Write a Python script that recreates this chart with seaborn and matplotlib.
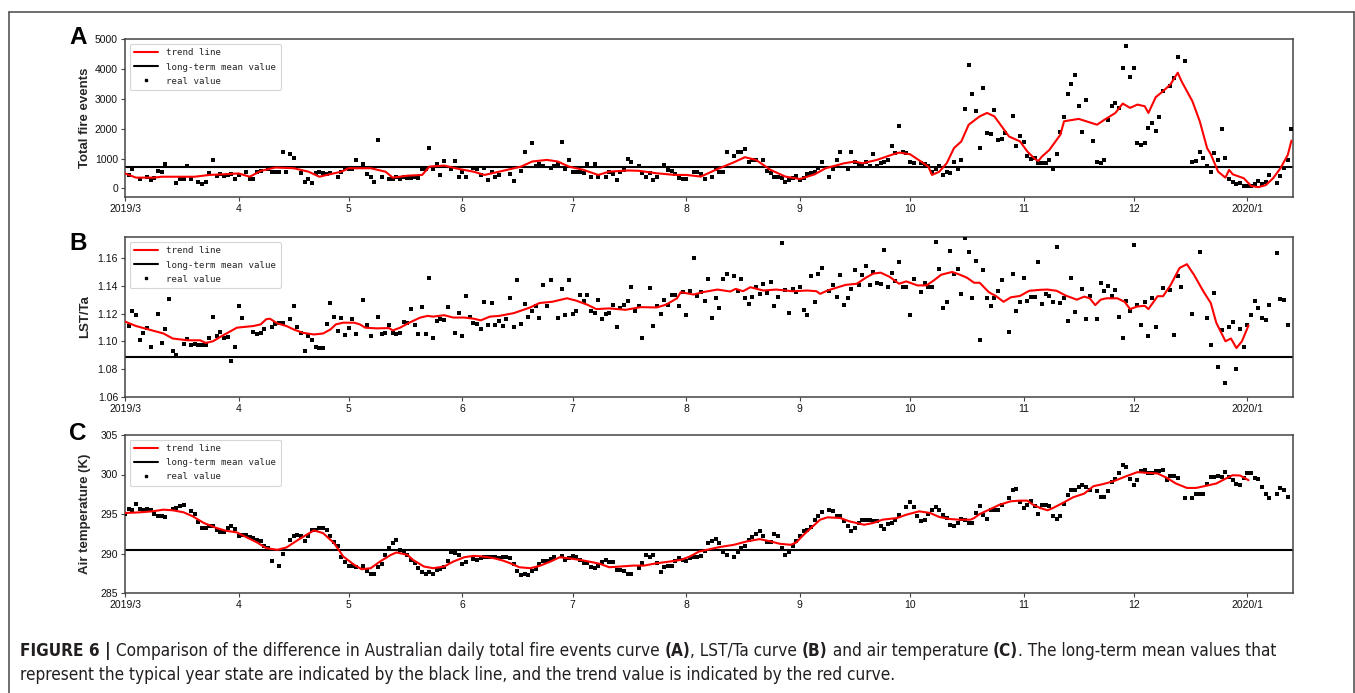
import numpy as np
import pandas as pd
import matplotlib
matplotlib.use("Agg")
import matplotlib.pyplot as plt
import seaborn as sns
from matplotlib import font_manager as fm
from matplotlib.lines import Line2D

nan = np.nan

# ---------------- data (day index 0 = 2019-03-01) ----------------
month_ticks = [0, 31, 61, 92, 122, 153, 184, 214, 245, 275, 306]
month_labels = ["2019/3", "4", "5", "6", "7", "8", "9", "10", "11", "12", "2020/1"]

# Panel A: daily total fire events (one value per day, nan = no point)
fire_values = [
    nan, 450, 650, nan, 315, nan, 395, 280, 335, 585,
    540, 810, nan, nan, 180, 315, 315, 765, 315, nan,
    225, 135, 200, 505, 955, 430, 485, 415, 450, 485,
    315, 450, nan, 560, 315, 315, 560, 585, nan, 650,
    560, 560, 560, 1235, 540, 1145, 1010, nan, 505, 225,
    315, 170, 505, 540, 505, 470, 505, nan, 395, 540,
    675, 640, 650, 955, nan, 810, 485, 370, 225, 1630,
    395, nan, 315, 315, 395, 315, 395, 335, 335, 395,
    335, 650, 650, 1370, 650, 810, 450, 920, nan, 650,
    920, 395, 560, 395, nan, 675, 650, 450, 695, 280,
    560, 395, 450, nan, nan, 470, 260, nan, 595, 1235,
    nan, 1520, 755, 830, 755, nan, 695, 755, 810, 1540,
    640, 965, 560, 540, 560, 505, 810, 395, 810, 395,
    nan, 395, 560, 470, 280, 560, 620, 980, 875, nan,
    755, 505, 370, 505, 280, 370, nan, 785, 620, 595,
    470, 335, 315, 315, nan, 540, 560, 470, 315, nan,
    395, 650, 540, 540, 1215, nan, 1070, 1215, 1215, 1315,
    900, 955, 955, nan, 935, 595, 505, 395, 395, 335,
    225, 280, 360, 425, 280, 360, 470, 505, 560, 675,
    875, nan, 395, 650, 955, 1215, nan, 650, 1235, 875,
    785, 785, 900, 765, 1145, 765, 865, 900, 955, 1405,
    1180, 2080, 1215, 1180, 900, 845, nan, 845, 810, 765,
    560, 650, 765, 450, 560, 530, 900, 650, 955, 2650,
    4125, 3160, 2610, 1340, 3360, 1865, 1810, 2640, 1630, 1665,
    1865, nan, 2440, 1405, 1765, 1550, 1100, 980, 1010, 845,
    845, 845, 955, 650, 1145, 1890, 2395, 3160, 3495, 3800,
    2765, 1900, 2955, nan, 1595, 900, 845, 965, 2305, 2755,
    2865, 2700, 4025, 4790, 3745, 4045, 1505, 1440, 1530, 2025,
    2190, 1920, 2395, 3250, nan, 3450, 3700, 4405, nan, 4280,
    nan, 900, 920, 1235, 1010, 765, 560, 1200, 955, 1990,
    1035, 305, 225, 145, 170, 65, 65, 90, 155, 245,
    155, 225, 450, nan, 190, 415, 675, 955, 1980,
]
fire_trend_days = [0, 3, 8, 10, 19, 23, 28, 31, 34, 37, 41, 46, 50, 53, 55, 59, 61, 67, 71, 73,
                   77, 81, 83, 87, 91, 95, 98, 102, 108, 111, 115, 118, 121, 125, 129, 132, 137,
                   140, 145, 150, 153, 157, 161, 166, 169, 172, 176, 180, 184, 188, 191, 196, 199,
                   201, 205, 209, 211, 214, 217, 219, 220, 222, 224, 226, 228, 230, 233, 235, 237,
                   239, 241, 244, 246, 248, 249, 250, 252, 255, 256, 260, 265, 267, 270, 272, 274,
                   276, 278, 279, 281, 283, 285, 287, 288, 291, 293, 295, 296, 298, 300, 301, 302,
                   305, 307, 309, 311, 313, 315, 317, 318]
fire_trend_values = [500, 360, 360, 390, 390, 450, 480, 500, 390, 585, 700, 675, 560, 390, 450, 560,
                     675, 675, 560, 360, 425, 450, 730, 765, 650, 560, 450, 560, 730, 900, 955, 900,
                     730, 620, 450, 560, 600, 590, 505, 450, 450, 395, 620, 875, 1045, 955, 620,
                     395, 315, 470, 675, 840, 900, 840, 955, 1125, 1200, 1145, 900, 730, 450, 560,
                     840, 1350, 1575, 2135, 2415, 2530, 2415, 2080, 1740, 1575, 1235, 990, 920,
                     1070, 1290, 1800, 2250, 2330, 2135, 2300, 2530, 2845, 2700, 2810, 2755, 2530,
                     3060, 3260, 3485, 3880, 3600, 2920, 2250, 1350, 1145, 560, 360, 620, 470, 340,
                     80, 40, 110, 340, 675, 1125, 1600]
fire_mean = 710

# Panel B: LST/Ta
ratio_values = [
    nan, 1.1110, 1.1215, 1.1188, 1.1012, 1.1056, 1.1093, 1.0956, nan, 1.1195,
    1.0988, 1.1090, 1.1305, 1.0927, 1.0902, nan, 1.0980, 1.1017, 1.0976, 1.0983,
    1.0976, 1.0971, 1.0971, 1.1024, 1.1178, 1.1041, 1.1066, 1.1024, 1.1029, 1.0854,
    1.0959, 1.1251, 1.1168, nan, nan, 1.1066, 1.1054, 1.1056, 1.1085, nan,
    1.1105, 1.1127, 1.1134, 1.1134, nan, 1.1159, 1.1251, 1.1105, 1.1056, 1.0927,
    1.1037, 1.1007, 1.0959, 1.0949, 1.0949, 1.1124, 1.1276, 1.1178, 1.1073, 1.1168,
    1.1044, 1.1093, 1.1163, 1.1054, nan, 1.1300, 1.1120, 1.1041, nan, 1.1176,
    1.1049, 1.1056, 1.1115, 1.1061, 1.1049, 1.1056, 1.1142, 1.1134, 1.1232, 1.1117,
    1.1049, 1.1244, 1.1049, 1.1459, 1.1024, 1.1146, 1.1159, 1.1151, 1.1246, nan,
    1.1061, 1.1203, 1.1041, 1.1325, 1.1178, 1.1134, 1.1122, 1.1090, 1.1285, 1.1115,
    1.1276, 1.1115, 1.1146, 1.1110, 1.1159, 1.1310, 1.1105, 1.1444, 1.1122, 1.1268,
    1.1178, 1.1220, 1.1256, 1.1166, 1.1403, 1.1256, 1.1444, nan, 1.1171, 1.1378,
    1.1190, 1.1439, 1.1195, 1.1220, 1.1334, 1.1293, 1.1334, 1.1217, 1.1203, 1.1300,
    1.1163, 1.1195, 1.1207, 1.1264, 1.1102, 1.1237, 1.1261, 1.1293, 1.1390, 1.1220,
    1.1251, 1.1020, nan, 1.1386, 1.1110, 1.1256, 1.1195, 1.1300, 1.1264, 1.1334,
    1.1334, 1.1256, 1.1354, 1.1190, 1.1366, 1.1603, 1.1329, 1.1354, 1.1293, 1.1451,
    1.1166, 1.1315, 1.1237, 1.1451, 1.1488, nan, 1.1471, 1.1366, 1.1447, 1.1310,
    1.1268, 1.1322, 1.1390, 1.1342, 1.1412, 1.1349, 1.1427, 1.1251, 1.1322, 1.1712,
    1.1371, 1.1203, 1.1378, 1.1354, 1.1388, 1.1224, 1.1190, 1.1468, 1.1281, 1.1488,
    1.1529, nan, 1.1359, 1.1403, 1.1322, 1.1476, 1.1261, 1.1310, 1.1378, 1.1512,
    1.1407, 1.1481, 1.1544, 1.1407, 1.1500, 1.1422, 1.1415, 1.1656, 1.1393, 1.1495,
    1.1432, 1.1573, 1.1393, 1.1393, 1.1190, 1.1451, nan, 1.1354, 1.1417, 1.1393,
    1.1393, 1.1715, 1.1520, 1.1239, 1.1281, 1.1654, 1.1488, 1.1520, 1.1344, 1.1744,
    1.1647, 1.1310, 1.1578, 1.1012, 1.1517, 1.1315, 1.1256, 1.1315, 1.1364, 1.1439,
    nan, 1.1066, 1.1488, 1.1217, 1.1285, 1.1459, 1.1288, 1.1320, 1.1320, 1.1573,
    1.1266, 1.1344, 1.1325, 1.1281, 1.1678, 1.1273, 1.1315, 1.1146, 1.1456, 1.1212,
    nan, 1.1378, 1.1159, 1.1325, nan, 1.1163, 1.1417, 1.1364, 1.1398, 1.1329,
    1.1371, 1.1178, 1.1022, 1.1288, 1.1220, 1.1695, 1.1264, 1.1115, 1.1281, 1.1037,
    1.1310, 1.1102, nan, 1.1386, nan, 1.1371, 1.1044, 1.1471, 1.1395, nan,
    nan, 1.1200, nan, 1.1647, nan, 1.1171, 1.0973, 1.1346, 1.0817, 1.1078,
    1.0700, 1.1102, 1.1139, 1.0797, 1.1085, 1.0956, 1.1117, 1.1193, 1.1288, 1.1242,
    1.1166, 1.1156, 1.1261, nan, 1.1639, 1.1305, 1.1300, 1.1115,
]
ratio_trend_days = [0, 3, 7, 10.5, 13, 17, 20.5, 22, 24, 26, 28, 30.5, 35, 37, 38.5, 39.5, 41.5, 44,
                    46, 48.5, 51.5, 54, 56, 57.5, 59.5, 62.5, 64, 65.5, 68.5, 72, 73, 75, 77.5, 80.5,
                    82.5, 84, 87, 89.5, 92.5, 95, 97, 99.5, 102, 106, 110.5, 113, 116.5, 120.5, 123,
                    126, 128.5, 132, 136.5, 140.5, 145, 147.5, 150.5, 151.5, 155, 157.5, 161.5, 165,
                    166.5, 168.5, 170.5, 174, 177.5, 182, 186, 188.5, 189.5, 191.5, 195, 196.5, 199.5,
                    202, 204, 206, 208.5, 211, 213, 216, 218.5, 220.5, 222.5, 225.5, 227.5, 229.5,
                    231.5, 233, 235.5, 237.5, 239.5, 241.5, 244, 246.5, 249.5, 251.5, 254, 256.5,
                    259.5, 261.5, 263, 264.5, 266, 267.5, 270.5, 272.5, 274, 276, 278, 279, 281.5,
                    283, 285, 287.5, 289.5, 291.5, 294, 296, 297.5, 300, 301.5, 303, 304.5, 306.3]
ratio_trend_values = [1.1142, 1.1110, 1.1081, 1.1056, 1.1020, 1.1007, 1.1007, 1.0988, 1.1000, 1.1032,
                      1.1061, 1.1098, 1.1110, 1.1122, 1.1159, 1.1163, 1.1129, 1.1110, 1.1085, 1.1061,
                      1.1049, 1.1056, 1.1085, 1.1122, 1.1134, 1.1134, 1.1122, 1.1098, 1.1093, 1.1095,
                      1.1078, 1.1098, 1.1134, 1.1171, 1.1183, 1.1178, 1.1188, 1.1171, 1.1171, 1.1163,
                      1.1151, 1.1178, 1.1183, 1.1203, 1.1244, 1.1276, 1.1285, 1.1310, 1.1293, 1.1264,
                      1.1232, 1.1237, 1.1227, 1.1246, 1.1244, 1.1264, 1.1310, 1.1354, 1.1337, 1.1354,
                      1.1373, 1.1359, 1.1378, 1.1361, 1.1390, 1.1366, 1.1373, 1.1361, 1.1366, 1.1361,
                      1.1342, 1.1366, 1.1395, 1.1407, 1.1415, 1.1459, 1.1488, 1.1495, 1.1464, 1.1415,
                      1.1432, 1.1403, 1.1403, 1.1439, 1.1480, 1.1500, 1.1481, 1.1459, 1.1422, 1.1422,
                      1.1354, 1.1325, 1.1285, 1.1317, 1.1327, 1.1364, 1.1371, 1.1373, 1.1364, 1.1329,
                      1.1300, 1.1322, 1.1310, 1.1261, 1.1300, 1.1310, 1.1310, 1.1285, 1.1232, 1.1251,
                      1.1256, 1.1232, 1.1325, 1.1325, 1.1403, 1.1529, 1.1556, 1.1476, 1.1359, 1.1276,
                      1.1134, 1.1000, 1.1020, 1.0951, 1.1000, 1.1115]
ratio_mean = 1.0888

# Panel C: air temperature (K)
temp_values = [
    295.04, 295.64, 295.55, 296.31, 295.68, 295.47, 295.64, 295.47, 295.04, 294.70,
    294.79, 294.62, nan, 295.64, 295.76, 295.97, 296.10, nan, 295.34, 295.04,
    293.98, 293.22, 293.22, 293.52, 293.43, 293.01, 292.67, 292.67, 293.22, 293.52,
    293.09, 292.25, 292.37, 292.37, 292.03, 291.95, 291.74, 291.53, 290.89, 290.68,
    289.07, nan, 288.47, 289.96, nan, 291.65, 292.16, 292.37, 292.16, 291.53,
    292.16, 293.01, 293.01, 293.22, 293.22, 293.01, 292.16, 291.44, 290.89, 289.53,
    288.98, 288.43, 288.43, 288.35, nan, 288.43, 287.80, 287.42, 287.42, 288.26,
    288.69, 289.83, 290.68, 291.31, 291.65, 290.47, 290.13, 289.83, 289.19, 288.77,
    288.14, 287.71, 287.42, 287.71, 287.42, 287.92, 288.01, 288.35, 289.11, 290.17,
    290.04, 289.83, 288.64, 288.98, nan, 289.28, 289.19, 289.41, 289.62, 289.62,
    289.53, 289.62, 289.49, 289.62, 289.53, 289.41, 288.69, 287.84, 287.29, 287.42,
    287.29, 287.84, 288.05, 288.69, 289.11, 289.11, 289.28, 289.53, nan, 289.70,
    289.19, 289.41, 289.70, 289.62, 289.19, 288.86, 288.86, 288.26, 288.14, 288.43,
    288.98, 289.19, 288.98, 288.94, 287.92, 287.92, 287.84, 287.42, 287.42, nan,
    288.14, 288.86, 289.83, 289.62, 289.75, 288.77, 287.71, 288.26, 288.43, 288.47,
    289.07, 289.41, 289.19, 289.11, 289.41, 289.62, 289.62, 289.70, 290.34, 291.31,
    291.53, 291.82, 291.31, 290.25, 289.83, nan, 289.62, 290.13, 290.68, 290.89,
    291.74, 292.08, 292.50, 292.88, 292.16, 291.40, 291.40, 292.46, 292.16, 290.68,
    289.83, 290.25, 290.89, 291.53, 292.16, 292.80, 293.01, 293.35, 294.28, 294.79,
    295.25, nan, 295.55, 295.34, 294.79, 294.70, 294.07, 293.43, 292.80, 293.22,
    293.86, 294.19, 294.19, 294.19, 294.07, 294.07, 293.52, 293.09, 293.77, 293.86,
    294.28, 294.91, nan, 295.89, 296.53, 295.89, 294.70, 294.07, 294.28, 295.04,
    295.47, 295.89, 295.47, 294.91, 294.49, 293.64, 293.43, 293.86, 294.36, 294.28,
    293.86, 293.86, 295.13, 296.06, 294.91, 294.36, 295.55, 295.55, 295.55, 296.19,
    nan, 297.03, 298.09, 298.22, 296.57, 295.76, 296.19, 296.61, 296.06, 295.04,
    296.19, 296.19, 296.06, 294.70, 294.36, 294.70, 296.27, 297.46, 298.01, 298.01,
    298.43, 298.73, 298.43, 298.01, nan, 297.88, 297.16, 297.16, 297.92, 299.11,
    299.45, 300.21, 301.14, 300.93, 299.45, 298.69, 299.36, 300.42, 300.51, 300.13,
    300.21, 300.38, 300.42, 300.55, 299.28, 299.87, 299.79, 299.58, nan, 297.03,
    nan, 297.03, 297.58, 297.58, 297.58, 298.86, 299.70, 299.70, 299.87, 299.70,
    300.30, 299.70, 299.36, 298.86, 298.69, 299.58, 300.21, 300.13, 299.58, 299.45,
    298.43, 297.58, 297.03, nan, 297.58, 298.26, 298.09, 297.16,
]
temp_trend_days = [0, 4, 7.5, 10.5, 13, 16, 18.5, 21.5, 25, 27.5, 30.5, 33, 36, 38.5, 41.5, 44, 47.5,
                   51.5, 54, 57, 59.5, 62.5, 64.5, 67, 69.5, 72.5, 74, 77, 78.5, 81.5, 84, 87, 89.5,
                   92.5, 95, 97.5, 100.5, 103, 105, 107.5, 110.5, 113, 116, 118.5, 121.5, 124, 126.5,
                   129.5, 132, 135, 138.5, 141.5, 145, 148.5, 151.5, 154, 156.5, 159.5, 162, 166,
                   169.5, 173, 176, 178.5, 181.5, 183, 185, 187, 189.5, 191.5, 195, 197.5, 201.5,
                   204, 206.5, 210.5, 213, 216.5, 219.5, 222, 225, 227.5, 230.5, 231.5, 233, 236,
                   238.5, 241.5, 244, 246, 247.5, 249.5, 251.5, 253, 256, 258.5, 261.5, 264, 266.5,
                   269.5, 273, 276, 278.5, 281.5, 284, 286.5, 289.5, 292, 295, 297.5, 300.5, 302,
                   304, 306.3]
temp_trend_values = [295.13, 295.21, 295.34, 295.55, 295.47, 295.21, 294.70, 293.86, 293.22, 292.88,
                     292.67, 292.08, 291.40, 290.68, 290.47, 290.76, 291.82, 292.92, 292.58, 291.31,
                     289.62, 288.56, 288.01, 288.14, 288.98, 289.83, 290.13, 289.83, 289.19, 288.35,
                     288.14, 288.35, 288.98, 289.53, 289.70, 289.62, 289.41, 289.11, 288.77, 288.26,
                     288.14, 288.43, 288.98, 289.53, 289.36, 289.19, 288.98, 288.69, 288.26, 288.35,
                     288.47, 288.47, 288.77, 288.98, 289.19, 289.62, 290.25, 290.55, 290.81, 291.10,
                     291.53, 291.82, 291.53, 291.23, 291.10, 291.40, 292.37, 293.22, 294.28, 294.58,
                     294.49, 294.07, 293.64, 293.86, 294.28, 294.49, 294.91, 295.34, 295.13, 294.62,
                     294.36, 294.28, 294.28, 294.49, 295.00, 295.64, 296.19, 296.61, 296.69, 296.69,
                     296.19, 295.76, 295.47, 295.76, 296.48, 297.12, 297.58, 298.52, 298.77, 299.15,
                     299.79, 300.30, 300.21, 300.13, 299.58, 298.86, 298.30, 298.30, 298.60, 298.86,
                     299.58, 299.91, 299.87, 299.28]
temp_mean = 290.4

legend_labels = ["trend line", "long-term mean value", "real value"]
caption_line1 = [("FIGURE 6 |", True),
                 (" Comparison of the difference in Australian daily total fire events curve ", False),
                 ("(A)", True), (", LST/Ta curve ", False), ("(B)", True),
                 (" and air temperature ", False), ("(C)", True),
                 (". The long-term mean values that", False)]
caption_line2 = [("represent the typical year state are indicated by the black line, "
                  "and the trend value is indicated by the red curve.", False)]

# ---------------- style ----------------
sns.set_style("white")
plt.rcParams["font.family"] = ["Liberation Sans", "DejaVu Sans"]

# pick a condensed sans face for the caption if one is installed
cap_regular = None
cap_bold = None
for f in fm.fontManager.ttflist:
    nm = f.name.lower()
    st = str(f.stretch).lower()
    narrow = ("narrow" in nm or "condensed" in nm or "condensed" in st)
    if narrow and "mono" not in nm and "serif" not in nm and f.style == "normal":
        w = f.weight if isinstance(f.weight, int) else (700 if "bold" in str(f.weight) else 400)
        if w >= 600 and cap_bold is None:
            cap_bold = f.fname
        elif w < 600 and cap_regular is None:
            cap_regular = f.fname


def cap_props(bold, size):
    if cap_regular and cap_bold:
        return fm.FontProperties(fname=cap_bold if bold else cap_regular, size=size)
    return fm.FontProperties(family=["Liberation Sans", "DejaVu Sans"],
                             weight="bold" if bold else "normal", size=size)


W, H = 1355, 693
fig = plt.figure(figsize=(W / 100, H / 100), dpi=100)


def rect(l, t, r, b):
    return [l / W, 1 - b / H, (r - l) / W, (b - t) / H]


axA = fig.add_axes(rect(125, 39.3, 1293.3, 197.3))
axB = fig.add_axes(rect(125, 237.3, 1293.3, 396.7))
axC = fig.add_axes(rect(125, 435, 1293.3, 593))

XMAX = 318.5


def panel(ax, values, tdays, tvals, mean, ylim, yticks, yfmt, ylabel, letter, letter_y):
    df = pd.DataFrame({"day": np.arange(len(values)), "value": values}).dropna()
    sns.scatterplot(data=df, x="day", y="value", ax=ax, color="black", s=5, marker="s",
                    linewidth=0, zorder=3, legend=False)
    ax.axhline(mean, color="black", lw=1.5, zorder=2)
    sns.lineplot(x=tdays, y=tvals, ax=ax, color="red", lw=1.5, estimator=None, sort=False,
                 zorder=4, legend=False)
    ax.set_xlim(0, XMAX)
    ax.set_ylim(*ylim)
    ax.set_xticks(month_ticks)
    ax.set_xticklabels(month_labels)
    ax.set_yticks(yticks)
    ax.set_yticklabels([yfmt.format(v) for v in yticks])
    ax.set_xlabel("")
    ax.set_ylabel(ylabel, fontsize=9.5, fontweight="bold")
    ax.yaxis.set_label_coords(-0.0291, 0.5)
    ax.tick_params(axis="both", labelsize=7.5, length=3, width=0.8, color="#444",
                   labelcolor="#111", pad=2, direction="out", bottom=True, left=True)
    for sp in ax.spines.values():
        sp.set_visible(True)
        sp.set_color("#444")
        sp.set_linewidth(1.1)
    handles = [Line2D([], [], color="red", lw=1.5),
               Line2D([], [], color="black", lw=1.5),
               Line2D([], [], color="black", marker="s", ms=2, ls="none")]
    leg = ax.legend(handles, legend_labels, loc="upper left",
                    prop={"family": "DejaVu Sans Mono", "size": 6.6},
                    frameon=True, borderaxespad=0.5, handlelength=2.6, handletextpad=0.9,
                    labelspacing=0.55, borderpad=0.5, fancybox=True)
    leg.get_frame().set_edgecolor("#cccccc")
    leg.get_frame().set_linewidth(0.8)
    fig.text(78 / W, 1 - letter_y / H, letter, fontsize=17.5, fontweight="bold",
             ha="center", va="center", color="black")


panel(axA, fire_values, fire_trend_days, fire_trend_values, fire_mean, (-300, 5000),
      [0, 1000, 2000, 3000, 4000, 5000], "{:.0f}", "Total fire events", "A", 37.5)
panel(axB, ratio_values, ratio_trend_days, ratio_trend_values, ratio_mean, (1.06, 1.175),
      [1.06, 1.08, 1.10, 1.12, 1.14, 1.16], "{:.2f}", "LST/Ta", "B", 243.5)
panel(axC, temp_values, temp_trend_days, temp_trend_values, temp_mean, (285, 305),
      [285, 290, 295, 300, 305], "{:.0f}", "Air temperature (K)", "C", 433)

# ---------------- figure frame ----------------
frame_kw = dict(color="#555555", lw=1.2, transform=fig.transFigure)
fig.add_artist(Line2D([9.3 / W, 9.3 / W], [0, 1 - 11.7 / H], **frame_kw))
fig.add_artist(Line2D([9.3 / W, 1354 / W], [1 - 11.7 / H, 1 - 11.7 / H], **frame_kw))
fig.add_artist(Line2D([1354 / W, 1354 / W], [0, 1 - 11.7 / H], **frame_kw))

# ---------------- caption ----------------
renderer = fig.canvas.get_renderer()
CAP_COLOR = "#231f20"


def text_width(s, bold, size):
    t1 = fig.text(0, 0, "I" + s + "I", fontproperties=cap_props(bold, size))
    t2 = fig.text(0, 0, "II", fontproperties=cap_props(bold, size))
    w = t1.get_window_extent(renderer).width - t2.get_window_extent(renderer).width
    t1.remove()
    t2.remove()
    return w


def line_width(pieces, size):
    return sum(text_width(s, b, size) for s, b in pieces)


# fit the first caption line to its width in the reference (x = 20 .. 1281 px)
base_size = 14.3
cap_size = base_size * 1261 / line_width(caption_line1, base_size)
cap_size = min(cap_size, 15.0)


def rich_line(x_px, base_px, pieces, size):
    x = x_px
    for s, bold in pieces:
        fig.text(x / W, 1 - base_px / H, s, fontproperties=cap_props(bold, size),
                 ha="left", va="baseline", color=CAP_COLOR)
        x += text_width(s, bold, size)
    return x


rich_line(20, 656, caption_line1, cap_size)
rich_line(20, 680, caption_line2, cap_size)

fig.savefig("out.png", dpi=100)
